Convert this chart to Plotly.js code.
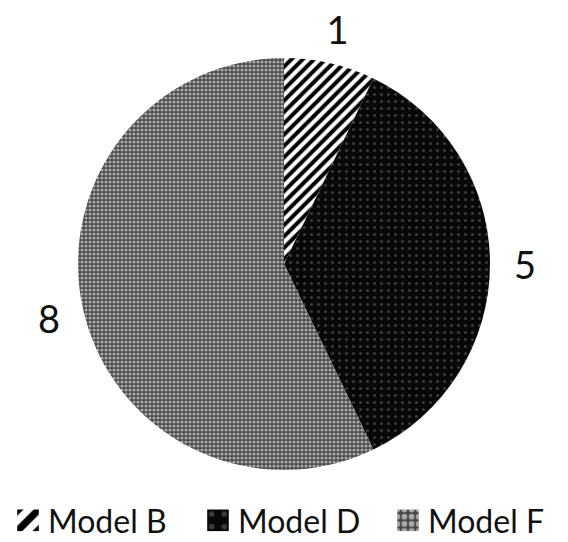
<!DOCTYPE html>
<html>
<head>
<meta charset="utf-8">
<script src="https://cdn.plot.ly/plotly-3.0.1.min.js"></script>
<style>
  html, body { margin: 0; padding: 0; background: #fff; }
  #chart { width: 568px; height: 542px; }
</style>
</head>
<body>
<div id="chart"></div>
<script>
// Count of units per model
const models = ['Model B', 'Model D', 'Model F'];
const counts = [1, 5, 8];

// Fill styles for each slice: stripes, dark dots, grey checks
const patternShapes = ['/', '.', '.'];
const patternFg = ['#000000', '#3a3a3a', '#a8a8a8'];
const patternBg = ['#ffffff', '#080808', '#484848'];
const patternSize = [8, 7, 4];
const patternSolidity = [0.5, 0.15, 0.5];

const fontFamily = 'Lato, "Open Sans", sans-serif';

const trace = {
  type: 'pie',
  labels: models,
  values: counts,
  sort: false,
  direction: 'clockwise',
  rotation: 0,
  domain: { x: [0.134, 0.866], y: [0, 1] },
  textinfo: 'value',
  textposition: 'outside',
  outsidetextfont: { family: fontFamily, size: 38, color: '#111' },
  marker: {
    colors: patternBg,
    line: { color: '#ffffff', width: 0 },
    pattern: {
      shape: patternShapes,
      fgcolor: patternFg,
      bgcolor: patternBg,
      size: patternSize,
      solidity: patternSolidity,
      fillmode: 'replace'
    }
  },
  hoverinfo: 'label+value'
};

const layout = {
  width: 568,
  height: 542,
  margin: { l: 0, r: 0, t: 58, b: 72 },
  paper_bgcolor: '#ffffff',
  showlegend: true,
  legend: {
    orientation: 'h',
    xref: 'paper',
    yref: 'container',
    x: 0.0,
    xanchor: 'left',
    y: 0,
    yanchor: 'bottom',
    font: { family: fontFamily, size: 32, color: '#111' },
    itemwidth: 30,
    entrywidth: 145,
    entrywidthmode: 'pixels'
  }
};

Plotly.newPlot('chart', [trace], layout, { staticPlot: true, displayModeBar: false }).then(function (gd) {
  // enlarge the legend swatches, keeping their own placement
  gd.querySelectorAll('.legendpoints path').forEach(function (p) {
    const old = p.getAttribute('transform') || '';
    p.setAttribute('transform', old + ' scale(1.8)');
  });

  // nudge the legend row a little right and down
  const leg = gd.querySelector('g.legend');
  if (leg) {
    const old = leg.getAttribute('transform') || '';
    leg.setAttribute('transform', 'translate(8,6) ' + old);
  }

  // set the value labels further out, centred on each slice's mid-angle
  const cd = gd.calcdata[0];
  const cd0 = cd[0];
  const outward = 1.17;
  const box = gd.getBoundingClientRect();
  const texts = gd.querySelectorAll('g.slice text.slicetext');
  texts.forEach(function (t, i) {
    const pt = cd[i];
    const tx = cd0.cx + pt.pxmid[0] * outward;
    const ty = cd0.cy + pt.pxmid[1] * outward;
    const r = t.getBoundingClientRect();
    const curX = r.left + r.width / 2 - box.left;
    const curY = r.top + r.height / 2 - box.top;
    const old = t.getAttribute('transform') || '';
    t.setAttribute('transform', 'translate(' + (tx - curX) + ',' + (ty - curY) + ') ' + old);
  });
});
</script>
</body>
</html>
